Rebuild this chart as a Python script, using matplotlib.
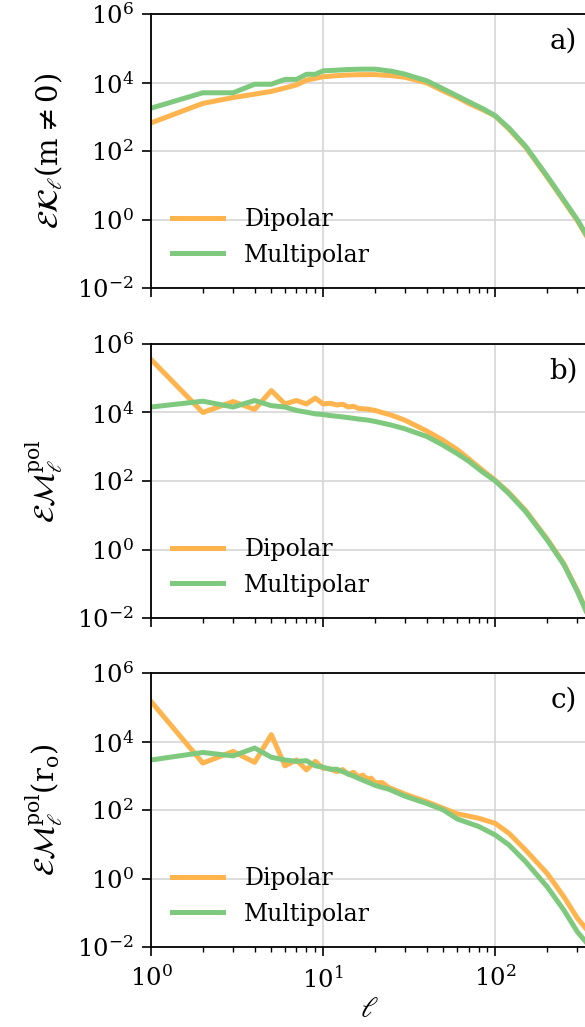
import numpy as np
import matplotlib
matplotlib.use('Agg')
import matplotlib.pyplot as plt
from matplotlib.ticker import LogLocator, NullLocator

plt.rcParams['font.family'] = ['DejaVu Serif']
plt.rcParams['mathtext.fontset'] = 'dejavuserif'

ORANGE = '#ffb44e'
GREEN = '#7fc97f'

# panel a: kinetic energy spectrum (m != 0), values read as log10
ell_a = [1, 2, 3, 4, 5, 6, 7, 8, 9, 10, 12, 14, 17, 20, 25, 30, 40, 50, 60, 70,
         85, 100, 120, 150, 200, 250, 300, 341]
kin_dip_exp = [2.82, 3.39, 3.56, 3.66, 3.74, 3.84, 3.93, 4.07, 4.12, 4.17, 4.20,
               4.22, 4.23, 4.23, 4.20, 4.15, 3.99, 3.75, 3.57, 3.39, 3.20, 3.02,
               2.64, 2.11, 1.24, 0.54, -0.04, -0.51]
kin_mul_exp = [3.25, 3.70, 3.70, 3.95, 3.95, 4.09, 4.09, 4.24, 4.24, 4.34, 4.36,
               4.38, 4.39, 4.39, 4.33, 4.24, 4.05, 3.81, 3.61, 3.44, 3.23, 3.03,
               2.67, 2.14, 1.27, 0.57, -0.01, -0.48]

# panel b: poloidal magnetic energy spectrum
ell_b = [1, 2, 3, 4, 5, 6, 7, 8, 9, 10, 11, 12, 13, 14, 15, 16, 18, 20, 25, 30,
         40, 50, 60, 70, 85, 100, 120, 150, 200, 250, 300, 341]
pol_dip_exp = [5.55, 4.00, 4.32, 4.09, 4.64, 4.25, 4.35, 4.25, 4.42, 4.25, 4.27,
               4.22, 4.24, 4.16, 4.18, 4.12, 4.10, 4.06, 3.92, 3.77, 3.46, 3.18,
               2.92, 2.65, 2.30, 2.02, 1.66, 1.14, 0.31, -0.41, -1.20, -1.83]
pol_mul_exp = [4.16, 4.33, 4.16, 4.35, 4.20, 4.16, 4.06, 4.01, 3.96, 3.94, 3.91,
               3.89, 3.87, 3.85, 3.83, 3.81, 3.78, 3.74, 3.63, 3.52, 3.30, 3.04,
               2.80, 2.58, 2.25, 2.00, 1.63, 1.11, 0.28, -0.44, -1.23, -1.86]

# panel c: poloidal magnetic energy spectrum at the outer radius
ell_c = [1, 2, 3, 4, 5, 6, 7, 8, 9, 10, 11, 12, 13, 14, 15, 16, 17, 18, 19, 20,
         22, 24, 30, 40, 50, 60, 80, 100, 120, 150, 200, 250, 300, 341]
ro_dip_exp = [5.17, 3.37, 3.71, 3.39, 4.20, 3.29, 3.46, 3.17, 3.42, 3.22, 3.20,
              3.12, 3.18, 3.04, 3.10, 2.97, 3.02, 2.90, 2.93, 2.80, 2.80, 2.66,
              2.46, 2.24, 2.05, 1.89, 1.76, 1.61, 1.32, 0.83, 0.15, -0.53,
              -1.16, -1.50]
ro_mul_exp = [3.46, 3.68, 3.58, 3.81, 3.54, 3.46, 3.42, 3.44, 3.29, 3.25, 3.19,
              3.19, 3.12, 3.05, 2.99, 2.93, 2.87, 2.82, 2.77, 2.72, 2.66, 2.61,
              2.40, 2.19, 2.00, 1.74, 1.52, 1.27, 0.98, 0.49, -0.24, -0.92,
              -1.56, -1.89]

panels = [
    (ell_a, kin_dip_exp, kin_mul_exp,
     r'$\mathcal{EK}_\ell(\mathrm{m}\neq 0)$', 'a)'),
    (ell_b, pol_dip_exp, pol_mul_exp,
     r'$\mathcal{EM}_\ell^{\mathrm{pol}}$', 'b)'),
    (ell_c, ro_dip_exp, ro_mul_exp,
     r'$\mathcal{EM}_\ell^{\mathrm{pol}}(\mathrm{r_o})$', 'c)'),
]

W, H = 585, 1027
fig = plt.figure(figsize=(W / 100, H / 100), dpi=100)

left = 151 / W
width = 436 / W
tops = [14, 344, 673]
ax_h = 274

for i, (ell, dip, mul, ylab, tag) in enumerate(panels):
    top = tops[i]
    ax = fig.add_axes([left, 1 - (top + ax_h) / H, width, ax_h / H])
    ax.plot(ell, 10 ** np.array(dip), color=ORANGE, lw=3.6, label='Dipolar')
    ax.plot(ell, 10 ** np.array(mul), color=GREEN, lw=3.6, label='Multipolar')
    ax.set_xscale('log')
    ax.set_yscale('log')
    ax.set_xlim(1, 341)
    ax.set_ylim(1e-2, 1e6)
    ax.set_yticks([1e-2, 1e0, 1e2, 1e4, 1e6])
    ax.yaxis.set_minor_locator(NullLocator())
    ax.xaxis.set_major_locator(LogLocator(base=10))
    ax.grid(True, which='major', color='#d6d6d6', lw=1.2)
    ax.set_axisbelow(True)
    ax.spines['right'].set_visible(False)
    for s in ['left', 'top', 'bottom']:
        ax.spines[s].set_linewidth(1.3)
    ax.tick_params(which='major', length=6.5, width=1.2, labelsize=17.5,
                   pad=6)
    ax.tick_params(axis='x', which='major', pad=7)
    ax.tick_params(which='minor', length=3.5, width=1.0)
    ax.set_ylabel(ylab, fontsize=21, labelpad=9)
    ax.text(0.978, 0.95, tag, transform=ax.transAxes, ha='right', va='top',
            fontsize=20)
    ax.legend(loc='lower left', frameon=False, fontsize=17,
              handlelength=2.15, borderaxespad=0.5, labelspacing=0.55,
              handletextpad=0.9)
    if i < 2:
        ax.tick_params(axis='x', labelbottom=False)
    else:
        ax.set_xlabel(r'$\ell$', fontsize=21, labelpad=2)

fig.savefig('out.png', dpi=100)
